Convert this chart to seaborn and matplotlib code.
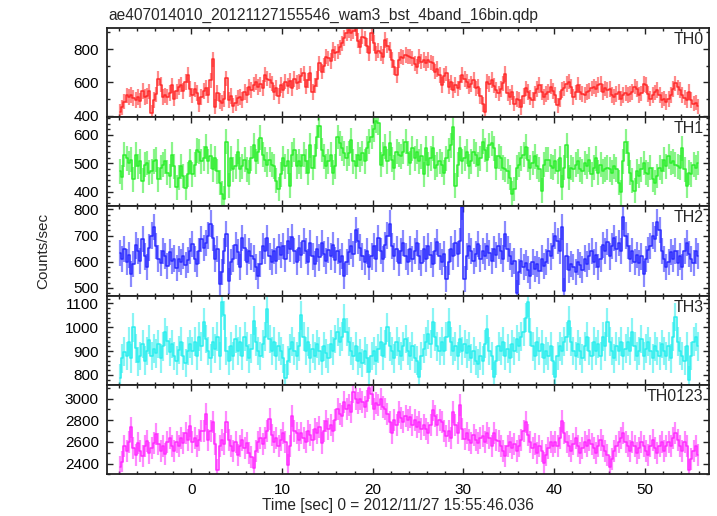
import numpy as np
import pandas as pd
import matplotlib
matplotlib.use("Agg")
import matplotlib.pyplot as plt
from matplotlib.ticker import MultipleLocator
import seaborn as sns

# light curve bins: 0.25 s, first bin centre
t_start = -7.875
bin_width = 0.25

th0 = [
    424, 452, 486, 522, 514, 526, 508, 496, 514, 492, 548, 512, 520, 546, 418, 494,
    528, 622, 586, 514, 522, 512, 536, 582, 504, 546, 572, 586, 548, 602, 644, 560,
    522, 558, 538, 470, 512, 548, 566, 526, 612, 738, 456, 536, 488, 478, 500, 624,
    496, 518, 462, 476, 506, 514, 494, 542, 526, 572, 554, 586, 602, 572, 588, 566,
    646, 622, 612, 594, 540, 566, 520, 584, 552, 604, 578, 610, 566, 620, 598, 604,
    640, 654, 574, 612, 654, 544, 580, 620, 714, 664, 700, 754, 744, 728, 794, 774,
    784, 810, 834, 866, 894, 914, 894, 908, 924, 850, 814, 874, 864, 820, 774, 894,
    836, 774, 790, 774, 754, 854, 820, 794, 734, 690, 644, 734, 754, 748, 764, 756,
    754, 744, 712, 694, 754, 724, 734, 714, 734, 720, 714, 664, 680, 644, 584, 640,
    654, 574, 600, 554, 584, 564, 600, 644, 620, 604, 574, 590, 614, 564, 574, 520,
    470, 424, 604, 590, 614, 580, 554, 534, 560, 594, 650, 534, 514, 540, 474, 500,
    494, 454, 520, 564, 544, 510, 494, 534, 560, 584, 544, 514, 530, 544, 574, 548,
    524, 464, 500, 554, 564, 590, 604, 574, 514, 540, 584, 544, 530, 524, 544, 550,
    564, 574, 560, 584, 590, 544, 564, 554, 560, 524, 514, 530, 544, 504, 524, 536,
    524, 530, 544, 574, 560, 524, 534, 590, 584, 530, 504, 524, 540, 554, 524, 494,
    504, 484, 500, 524, 560, 594, 570, 554, 524, 510, 494, 544, 494, 474, 480, 458,
]

th1 = [
    472, 450, 530, 518, 501, 513, 443, 530, 490, 507, 438, 495, 501, 467, 472, 507,
    513, 443, 484, 495, 507, 467, 455, 530, 490, 415, 449, 490, 455, 413, 461, 507,
    461, 495, 546, 541, 507, 518, 559, 507, 524, 478, 518, 472, 432, 392, 375, 576,
    421, 518, 478, 490, 541, 478, 490, 513, 478, 467, 518, 564, 507, 541, 590, 530,
    513, 495, 513, 495, 490, 438, 409, 461, 518, 490, 507, 421, 530, 547, 490, 507,
    490, 530, 507, 467, 564, 484, 524, 593, 633, 547, 524, 490, 507, 530, 467, 490,
    593, 570, 553, 536, 518, 536, 582, 507, 490, 530, 513, 536, 507, 553, 576, 593,
    620, 650, 644, 495, 530, 559, 507, 570, 513, 484, 541, 530, 524, 541, 576, 536,
    501, 553, 518, 541, 507, 524, 461, 553, 495, 518, 553, 484, 495, 507, 495, 467,
    518, 547, 564, 627, 421, 495, 553, 507, 518, 541, 490, 507, 541, 530, 495, 518,
    576, 547, 513, 564, 570, 553, 484, 524, 518, 484, 478, 472, 449, 392, 409, 484,
    495, 518, 530, 559, 513, 484, 501, 524, 490, 478, 403, 495, 513, 513, 490, 484,
    507, 472, 518, 415, 484, 564, 449, 484, 478, 495, 507, 478, 472, 501, 490, 513,
    461, 484, 518, 467, 495, 472, 478, 484, 478, 467, 490, 478, 432, 398, 507, 576,
    536, 467, 438, 403, 472, 455, 478, 501, 467, 461, 484, 443, 432, 455, 484, 472,
    513, 490, 524, 501, 507, 495, 490, 484, 553, 478, 421, 467, 461, 495, 484, 501,
]

th2 = [
    632, 610, 648, 598, 624, 552, 590, 662, 640, 604, 688, 620, 580, 654, 700, 733,
    660, 612, 594, 640, 622, 584, 636, 604, 612, 575, 610, 598, 622, 588, 606, 640,
    668, 610, 590, 640, 688, 652, 670, 700, 746, 690, 612, 650, 513, 560, 640, 707,
    526, 598, 612, 662, 638, 580, 690, 654, 600, 640, 620, 612, 578, 546, 590, 660,
    640, 690, 620, 598, 640, 604, 656, 626, 660, 612, 680, 650, 694, 640, 600, 652,
    626, 680, 640, 598, 670, 620, 590, 648, 616, 670, 630, 602, 646, 620, 664, 608,
    640, 598, 622, 546, 600, 636, 660, 628, 720, 680, 654, 620, 598, 640, 578, 620,
    660, 612, 690, 640, 610, 664, 700, 746, 660, 620, 648, 596, 640, 672, 620, 598,
    650, 610, 640, 672, 620, 596, 648, 612, 660, 624, 590, 640, 676, 620, 600, 630,
    533, 600, 650, 620, 672, 630, 680, 810, 533, 620, 660, 640, 602, 630, 668, 612,
    640, 620, 660, 632, 604, 650, 626, 660, 640, 612, 707, 650, 620, 590, 604, 481,
    560, 604, 580, 596, 570, 546, 600, 572, 590, 566, 612, 584, 598, 640, 620, 660,
    700, 680, 640, 733, 488, 620, 570, 590, 578, 560, 600, 586, 570, 612, 590, 620,
    640, 600, 626, 580, 610, 664, 640, 676, 620, 660, 690, 650, 672, 640, 772, 700,
    660, 612, 640, 600, 626, 596, 620, 552, 610, 646, 660, 700, 686, 750, 720, 640,
    610, 578, 600, 636, 612, 640, 596, 620, 580, 640, 672, 630, 610, 596, 640, 622,
]

th3 = [
    786, 870, 897, 880, 940, 870, 1000, 912, 856, 880, 930, 860, 900, 948, 880, 910,
    890, 930, 870, 920, 980, 944, 896, 930, 880, 860, 904, 940, 880, 850, 900, 930,
    900, 940, 880, 960, 920, 1021, 950, 900, 870, 940, 910, 960, 880, 1104, 1049, 900,
    860, 920, 880, 950, 900, 940, 880, 960, 920, 870, 910, 1028, 940, 900, 880, 930,
    960, 1076, 950, 900, 940, 880, 920, 900, 870, 786, 860, 910, 940, 900, 880, 920,
    1049, 960, 900, 940, 870, 910, 880, 930, 900, 860, 920, 890, 870, 930, 900, 950,
    980, 940, 960, 1035, 980, 940, 900, 880, 920, 860, 890, 850, 900, 870, 814, 880,
    900, 860, 910, 940, 880, 930, 1000, 920, 900, 870, 940, 900, 880, 920, 950, 900,
    880, 920, 870, 860, 793, 880, 910, 940, 970, 930, 1021, 960, 920, 900, 940, 900,
    960, 1021, 940, 900, 920, 880, 950, 900, 930, 890, 920, 870, 900, 860, 848, 880,
    860, 930, 993, 900, 880, 793, 860, 920, 900, 940, 880, 910, 870, 930, 900, 950,
    920, 960, 980, 1040, 1104, 980, 920, 880, 940, 900, 930, 870, 900, 880, 920, 860,
    793, 880, 920, 900, 940, 960, 1028, 940, 900, 880, 930, 900, 870, 920, 960, 900,
    880, 940, 900, 930, 880, 960, 920, 1021, 940, 900, 870, 920, 900, 940, 880, 910,
    940, 900, 980, 920, 880, 900, 950, 880, 910, 940, 900, 870, 920, 900, 880, 930,
    900, 880, 920, 870, 960, 1042, 940, 900, 880, 860, 920, 779, 880, 940, 959, 920,
]

th0123 = [
    2372, 2419, 2560, 2520, 2600, 2733, 2540, 2480, 2590, 2520, 2470, 2560, 2610, 2500, 2540, 2590,
    2670, 2580, 2520, 2560, 2490, 2600, 2640, 2560, 2520, 2600, 2560, 2640, 2590, 2680, 2620, 2750,
    2600, 2640, 2560, 2620, 2700, 2700, 2858, 2620, 2700, 2780, 2580, 2340, 2560, 2620, 2580, 2780,
    2620, 2560, 2520, 2600, 2480, 2560, 2620, 2540, 2590, 2500, 2460, 2356, 2520, 2600, 2640, 2580,
    2640, 2700, 2811, 2660, 2600, 2640, 2560, 2620, 2680, 2600, 2387, 2560, 2843, 2700, 2680, 2620,
    2686, 2640, 2600, 2700, 2660, 2620, 2717, 2680, 2740, 2590, 2700, 2796, 2720, 2760, 2700, 2800,
    2905, 2860, 2840, 2968, 2900, 2940, 2880, 3062, 3000, 2960, 3000, 2968, 2920, 2980, 3094, 3040,
    2905, 2960, 2940, 3000, 2920, 2905, 2860, 2780, 2686, 2800, 2760, 2874, 2820, 2780, 2840, 2800,
    2827, 2760, 2800, 2740, 2780, 2720, 2760, 2717, 2680, 2760, 2890, 2840, 2760, 2800, 2780, 2700,
    2654, 2700, 2640, 2874, 2760, 2680, 2937, 2720, 2623, 2680, 2620, 2590, 2660, 2620, 2590, 2640,
    2654, 2600, 2686, 2640, 2560, 2686, 2620, 2607, 2560, 2520, 2466, 2560, 2600, 2540, 2580, 2520,
    2560, 2620, 2700, 2780, 2660, 2600, 2540, 2580, 2500, 2560, 2520, 2403, 2480, 2540, 2600, 2560,
    2600, 2560, 2640, 2796, 2680, 2600, 2560, 2520, 2580, 2640, 2560, 2500, 2540, 2600, 2560, 2620,
    2580, 2540, 2500, 2560, 2620, 2560, 2520, 2480, 2372, 2440, 2520, 2560, 2600, 2640, 2686, 2600,
    2560, 2520, 2600, 2560, 2500, 2540, 2600, 2560, 2520, 2480, 2560, 2620, 2540, 2500, 2560, 2600,
    2520, 2560, 2600, 2560, 2640, 2686, 2620, 2560, 2520, 2600, 2560, 2340, 2440, 2520, 2560, 2480,
]

names = ["TH0", "TH1", "TH2", "TH3", "TH0123"]
series = [th0, th1, th2, th3, th0123]
colors = ["#ff2a2a", "#2cee2c", "#2a2aff", "#2aeeee", "#ff2aff"]
ylims = [(394, 929), (348, 664), (470, 812), (758, 1132), (2300, 3125)]
major_steps = [200, 100, 100, 100, 200]
minor_steps = [100, 20, 20, 20, 100]
errors = [46, 44, 50, 60, 101]   # typical 1-sigma per bin

sns.set_theme(style="ticks")
plt.rcParams["font.family"] = ["Liberation Sans", "DejaVu Sans"]

fig = plt.figure(figsize=(7.17, 5.16), dpi=100)
axes = fig.subplots(5, 1, sharex=True)
fig.subplots_adjust(left=0.1494, right=0.9894, top=0.9467, bottom=0.0806, hspace=0)

for ax, name, vals, col, lim, err, mj, mn in zip(axes, names, series, colors, ylims,
                                                 errors, major_steps, minor_steps):
    df = pd.DataFrame({"time": t_start + bin_width * np.arange(len(vals)),
                       "rate": np.asarray(vals, dtype=float)})
    # pale error bars first, then the binned rate as a step curve
    ax.errorbar(df["time"], df["rate"], yerr=err, fmt="none", ecolor=col,
                elinewidth=1.6, alpha=0.55, capsize=0)
    sns.lineplot(data=df, x="time", y="rate", ax=ax, color=col, lw=1.1,
                 drawstyle="steps-mid", estimator=None)
    ax.set_ylim(*lim)
    ax.set_xlim(-9.28, 57.12)
    ax.yaxis.set_major_locator(MultipleLocator(mj))
    ax.yaxis.set_minor_locator(MultipleLocator(mn))
    ax.xaxis.set_major_locator(MultipleLocator(10))
    ax.xaxis.set_minor_locator(MultipleLocator(2))
    ax.tick_params(which="both", direction="in", top=True, right=True,
                   color="#222222", labelsize=11, labelcolor="black", width=1.0)
    ax.tick_params(which="major", length=4.5, pad=6)
    ax.tick_params(which="minor", length=2.2)
    for sp in ax.spines.values():
        sp.set_linewidth(1.3)
        sp.set_color("#222222")
    ax.text(0.990, 0.82, name, transform=ax.transAxes, ha="right", va="baseline",
            fontsize=11.5)
    ax.set_ylabel("")
    ax.set_xlabel("")

fig.text(108 / 717, 1 - 19.5 / 516, "ae407014010_20121127155546_wam3_bst_4band_16bin.qdp",
         ha="left", va="baseline", fontsize=11.2)
fig.text(43 / 717, 1 - 251 / 516, "Counts/sec", rotation=90, ha="center", va="center",
         fontsize=11)
fig.text(398 / 717, 1 - 510 / 516, "Time [sec] 0 = 2012/11/27 15:55:46.036",
         ha="center", va="baseline", fontsize=11.2)

fig.savefig("out.png", dpi=100)
